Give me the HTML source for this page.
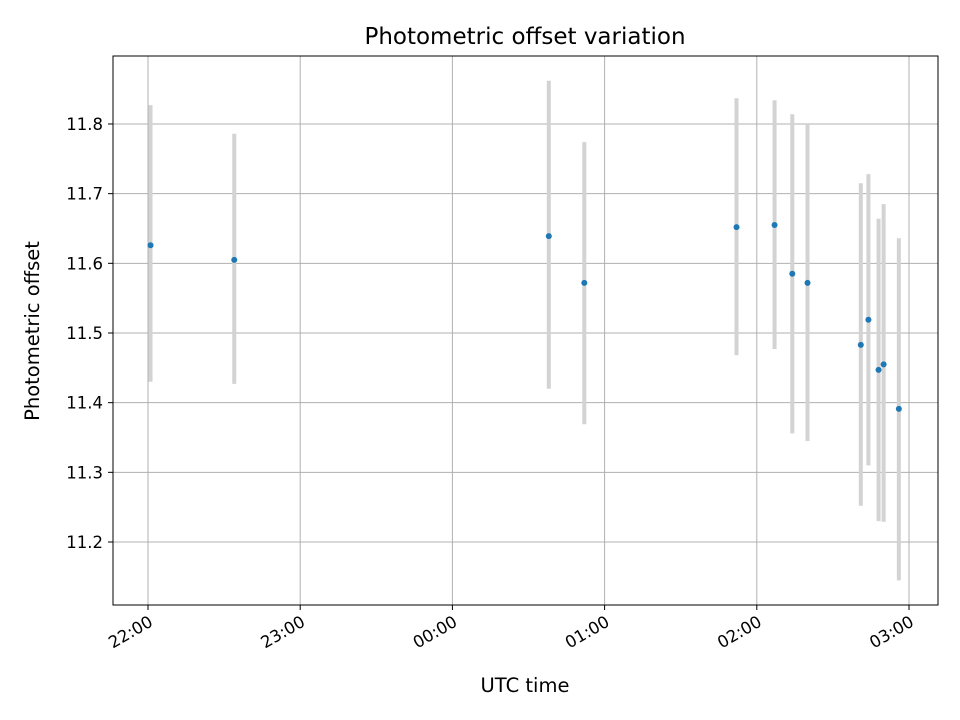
<!DOCTYPE html>
<html><head><meta charset="utf-8"><style>
body{margin:0;background:#fff;}
svg{display:block;font-family:"DejaVu Sans","Liberation Sans",sans-serif;}
</style></head><body>
<svg id="chart" width="960" height="720">
<text x="525" y="44" text-anchor="middle" font-size="23">Photometric offset variation</text>
<text x="525" y="692" text-anchor="middle" font-size="19.5">UTC time</text>
<text transform="translate(39,331) rotate(-90)" text-anchor="middle" font-size="19.5">Photometric offset</text>
</svg>
<script>
// minutes after 22:00 UTC
const times = [1, 34, 158, 172, 232, 247, 254, 260, 281, 284, 288, 290, 296];
const offsets = [11.626, 11.605, 11.639, 11.572, 11.652, 11.655, 11.585, 11.572, 11.483, 11.519, 11.447, 11.455, 11.391];
const errLow = [0.196, 0.178, 0.219, 0.203, 0.184, 0.178, 0.229, 0.227, 0.231, 0.209, 0.217, 0.226, 0.246];
const errHigh = [0.201, 0.181, 0.223, 0.202, 0.185, 0.179, 0.229, 0.228, 0.232, 0.209, 0.217, 0.23, 0.245];
const yTicks = [11.2, 11.3, 11.4, 11.5, 11.6, 11.7, 11.8];
const xTickMinutes = [0, 60, 120, 180, 240, 300];
const xTickLabels = ["22:00", "23:00", "00:00", "01:00", "02:00", "03:00"];

const L=113,R=938,T=56,B=605;
const xs = m => 148 + m*(152.2/60);
const ys = v => 542 - (v-11.2)*696.7;
const svg=document.getElementById('chart');
const NS='http://www.w3.org/2000/svg';
function mk(tag,attrs,parent){const e=document.createElementNS(NS,tag);for(const k in attrs)e.setAttribute(k,attrs[k]);(parent||svg).appendChild(e);return e;}
const grid=mk('g',{});


yTicks.forEach(v=>{
  const y=ys(v);
  mk('line',{x1:L,x2:R,y1:y,y2:y,stroke:'#b0b0b0','stroke-width':1},grid);
  mk('line',{x1:L-5,x2:L,y1:y,y2:y,stroke:'#000'},grid);
  const t=mk('text',{x:L-10,y:y+6,'text-anchor':'end','font-size':16.5});
  t.textContent=v.toFixed(1);
  
  
});
xTickMinutes.forEach((m,i)=>{
  const x=xs(m);
  mk('line',{x1:x,x2:x,y1:T,y2:B,stroke:'#b0b0b0','stroke-width':1},grid);
  mk('line',{x1:x,x2:x,y1:B,y2:B+5,stroke:'#000'},grid);
  const t=mk('text',{x:0,y:0,'text-anchor':'end','font-size':16.5,transform:`translate(${x+6},${B+20}) rotate(-30)`});
  t.textContent=xTickLabels[i];
  
  
});
const series=mk('g',{});


times.forEach((m,i)=>{
  const x=xs(m);
  const b=mk('line',{x1:x,x2:x,y1:ys(offsets[i]+errHigh[i]),y2:ys(offsets[i]-errLow[i]),stroke:'#d3d3d3','stroke-width':4},series);
  
  
});
times.forEach((m,i)=>{
  const p=mk('circle',{cx:xs(m),cy:ys(offsets[i]),r:3,fill:'#1f77b4'},series);
  
  
});
const frame=mk('rect',{x:L,y:T,width:R-L,height:B-T,fill:'none',stroke:'#000','stroke-width':1});


</script>
</body></html>
